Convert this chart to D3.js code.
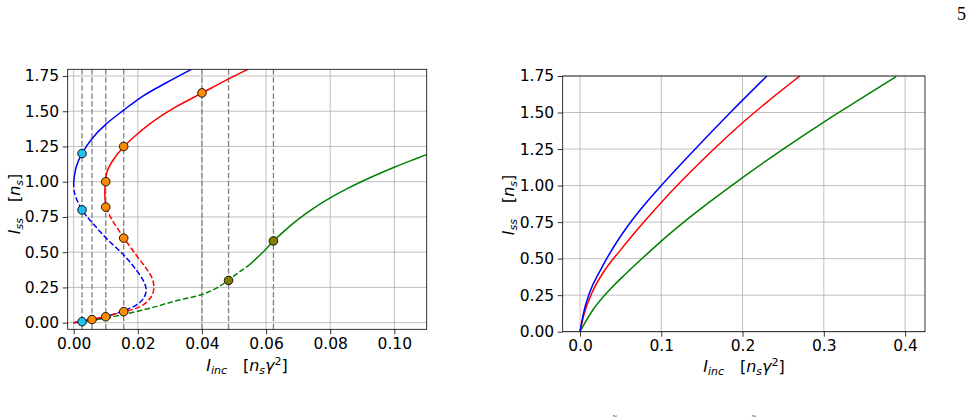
<!DOCTYPE html>
<html>
<head>
<meta charset="utf-8">
<script src="https://cdn.jsdelivr.net/npm/d3@7"></script>
<style>
  body { margin: 0; background: #fff; }
</style>
</head>
<body>
<div id="container"></div>
<script>
// ---- data ----
// left panel: S-shaped response curves, [I_inc, I_ss] pairs along each branch
const blueTop = [[0.0367,1.797],[0.0289,1.702],[0.0216,1.608],[0.0156,1.508],[0.0100,1.407],[0.0060,1.314],[0.0026,1.201],[0.0008,1.106],[0.0,1.0]];
const blueMid = [[0.0,1.0],[0.0003,0.917],[0.0026,0.80],[0.006,0.704],[0.0102,0.598],[0.0156,0.48],[0.0195,0.374],[0.0219,0.29],[0.0226,0.232],[0.0218,0.173],[0.0195,0.125],[0.0156,0.085],[0.01,0.042]];
const blueLow = [[0.01,0.042],[0.0057,0.022],[0.0026,0.009],[0,0]];

const redTop = [[0.0543,1.797],[0.0476,1.721],[0.04,1.629],[0.032,1.532],[0.0247,1.426],[0.0195,1.331],[0.0156,1.248],[0.0123,1.154],[0.0104,1.071],[0.0099,1.0],[0.0097,0.917],[0.01,0.82]];
const redMid = [[0.01,0.82],[0.0117,0.74],[0.0156,0.603],[0.0195,0.48],[0.0226,0.385],[0.0245,0.314],[0.025,0.243],[0.0242,0.184],[0.0216,0.125],[0.0185,0.095],[0.0156,0.078],[0.01,0.043]];
const redLow = [[0.01,0.043],[0.0057,0.024],[0,0]];

const greenLow = [[0,0],[0.0057,0.017],[0.01,0.031]];
const greenMid = [[0.01,0.031],[0.0156,0.059],[0.0237,0.102],[0.032,0.156],[0.04,0.20],[0.0444,0.243],[0.0483,0.303],[0.0517,0.36],[0.0548,0.41]];
const greenTop = [[0.0548,0.41],[0.059,0.50],[0.0623,0.579],[0.066,0.657],[0.07,0.733],[0.075,0.815],[0.08,0.885],[0.085,0.947],[0.09,1.003],[0.095,1.055],[0.10,1.103],[0.105,1.148],[0.1101,1.192]];

const vLines = [0.0026, 0.0057, 0.01, 0.0156, 0.04, 0.0483, 0.0623];
const cyanPts = [[0.0026,1.20],[0.0026,0.80],[0.0026,0.007]];
const orangePts = [[0.0057,0.022],[0.01,0.042],[0.0156,0.078],[0.01,0.82],[0.01,1.0],[0.0156,0.60],[0.0156,1.25],[0.04,1.63]];
const olivePts = [[0.0483,0.30],[0.0623,0.58]];

// right panel: monotonic curves
const blueR = [[0,0],[0.004,0.12],[0.012,0.27],[0.025,0.42],[0.037,0.54],[0.057,0.71],[0.078,0.86],[0.10,1.0],[0.14,1.24],[0.185,1.50],[0.23,1.75]];
const redR = [[0,0],[0.005,0.12],[0.015,0.27],[0.028,0.40],[0.05,0.56],[0.073,0.715],[0.10,0.885],[0.13,1.06],[0.16,1.225],[0.20,1.43],[0.2705,1.75]];
const greenR = [[0,0],[0.005,0.05],[0.016,0.15],[0.037,0.29],[0.057,0.40],[0.086,0.55],[0.10,0.62],[0.13,0.76],[0.16,0.89],[0.20,1.055],[0.25,1.25],[0.30,1.435],[0.35,1.61],[0.389,1.745]];

const xTicksL = [0, 0.02, 0.04, 0.06, 0.08, 0.10];
const xTicksR = [0, 0.1, 0.2, 0.3, 0.4];
const yTicks = [0, 0.25, 0.5, 0.75, 1.0, 1.25, 1.5, 1.75];

// ---- layout ----
const w = 973, h = 420;
const svg = d3.select("#container").append("svg")
  .attr("width", w).attr("height", h)
  .style("font-family", "'DejaVu Sans', sans-serif");
svg.append("rect").attr("width", w).attr("height", h).attr("fill", "#fff");

const dash = "5.55,2.4";

function makePanel(id, box, xDom, yDom, xTicks, xFmt) {
  const x = d3.scaleLinear().domain(xDom).range([box.l, box.r]);
  const y = d3.scaleLinear().domain(yDom).range([box.b, box.t]);
  const g = svg.append("g");
  g.append("clipPath").attr("id", id)
    .append("rect").attr("x", box.l).attr("y", box.t)
    .attr("width", box.r - box.l).attr("height", box.b - box.t);

  // grid
  g.selectAll(".gx").data(xTicks).enter().append("line")
    .attr("x1", d => x(d)).attr("x2", d => x(d))
    .attr("y1", box.t).attr("y2", box.b)
    .attr("stroke", "#b0b0b0").attr("stroke-width", 0.8);
  g.selectAll(".gy").data(yTicks).enter().append("line")
    .attr("x1", box.l).attr("x2", box.r)
    .attr("y1", d => y(d)).attr("y2", d => y(d))
    .attr("stroke", "#b0b0b0").attr("stroke-width", 0.8);

  const xAxis = d3.axisBottom(x).tickValues(xTicks).tickFormat(d3.format(xFmt))
    .tickSize(5).tickSizeOuter(0).tickPadding(3.5);
  const yAxis = d3.axisLeft(y).tickValues(yTicks).tickFormat(d3.format(".2f"))
    .tickSize(5).tickSizeOuter(0).tickPadding(3.5);
  const ax = g.append("g").attr("transform", "translate(0," + box.b + ")").call(xAxis);
  const ay = g.append("g").attr("transform", "translate(" + box.l + ",0)").call(yAxis);
  [ax, ay].forEach(a => {
    a.attr("font-family", null).attr("font-size", null);
    a.select(".domain").remove();
    a.selectAll("line").attr("stroke", "#000").attr("stroke-width", 0.8);
    a.selectAll("text").style("font-size", "15.5px").style("font-family", "'DejaVu Sans'").attr("fill", "#000");
  });

  const plot = g.append("g").attr("clip-path", "url(#" + id + ")");
  return { x, y, g, plot, box };
}

function drawCurve(p, pts, color, dashed, curve) {
  const line = d3.line().x(d => p.x(d[0])).y(d => p.y(d[1]))
    .curve(curve || d3.curveCatmullRom.alpha(0.5));
  p.plot.append("path").datum(pts)
    .attr("d", line).attr("fill", "none")
    .attr("stroke", color).attr("stroke-width", 1.5)
    .attr("stroke-dasharray", dashed ? dash : null);
}

function drawDots(p, pts, color) {
  p.plot.selectAll(null).data(pts).enter().append("circle")
    .attr("cx", d => p.x(d[0])).attr("cy", d => p.y(d[1]))
    .attr("r", 4.3).attr("fill", color)
    .attr("stroke", "#000").attr("stroke-width", 0.9);
}

function frame(p) {
  const b = p.box;
  p.g.append("rect").attr("x", b.l).attr("y", b.t)
    .attr("width", b.r - b.l).attr("height", b.b - b.t)
    .attr("fill", "none").attr("stroke", "#000").attr("stroke-width", 0.8);
}

// math-like label: parts = [text, italic, size, baseline offset, dx]
function mathLabel(x, y, rot, parts) {
  const t = svg.append("text").attr("text-anchor", "middle").attr("fill", "#000")
    .attr("transform", "translate(" + x + "," + y + ") rotate(" + rot + ")");
  let prev = 0;
  parts.forEach(pt => {
    t.append("tspan").text(pt[0])
      .style("font-style", pt[1] ? "italic" : "normal")
      .style("font-size", pt[2] + "px")
      .attr("dy", pt[3] - prev)
      .attr("dx", pt[4] || 0);
    prev = pt[3];
  });
}
const xLabelParts = [["I",1,16,0],["inc",1,11,3.4],["[",0,16,0,16],["n",1,16,0],["s",1,11,3.4],["\u03b3",1,16,0],["2",0,11,-6.5],["]",0,16,0]];
const yLabelParts = [["I",1,16,0],["ss",1,11,3.4],["[",0,16,0,16],["n",1,16,0],["s",1,11,3.4],["]",0,16,0]];

// ---- left panel ----
const L = makePanel("clipL", { l: 67.7, r: 426.7, t: 69.3, b: 329.3 },
  [-0.00187, 0.1101], [-0.047, 1.7975], xTicksL, ".2f");

L.plot.selectAll(".vl").data(vLines).enter().append("line")
  .attr("x1", d => L.x(d)).attr("x2", d => L.x(d))
  .attr("y1", L.box.t).attr("y2", L.box.b)
  .attr("stroke", "#808080").attr("stroke-width", 1.3)
  .attr("stroke-dasharray", dash);

drawCurve(L, greenLow, "green", false);
drawCurve(L, greenMid, "green", true);
drawCurve(L, greenTop, "green", false);
drawCurve(L, blueTop, "blue", false);
drawCurve(L, blueMid, "blue", true);
drawCurve(L, blueLow, "blue", false);
drawCurve(L, redTop, "red", false);
drawCurve(L, redMid, "red", true);
drawCurve(L, redLow, "red", false);
drawDots(L, cyanPts, "#1fbfee");
drawDots(L, orangePts, "darkorange");
drawDots(L, olivePts, "olive");
frame(L);

mathLabel(247, 371, 0, xLabelParts);
mathLabel(20, 204, -90, yLabelParts);

// ---- right panel ----
const R = makePanel("clipR", { l: 562.7, r: 925, t: 76, b: 331.7 },
  [-0.0213, 0.4245], [0, 1.75], xTicksR, ".1f");
drawCurve(R, greenR, "green", false, d3.curveMonotoneX);
drawCurve(R, redR, "red", false, d3.curveMonotoneX);
drawCurve(R, blueR, "blue", false, d3.curveMonotoneX);
frame(R);

mathLabel(744, 372, 0, xLabelParts);
mathLabel(514, 205, -90, yLabelParts);

// page number and clipped caption fragments
svg.append("text").attr("x", 966).attr("y", 20).attr("text-anchor", "end")
  .style("font-family", "'Liberation Serif', serif").style("font-size", "18px").text("5");
svg.selectAll(".tl").data([615, 754]).enter().append("text")
  .attr("x", d => d).attr("y", 418.5).attr("text-anchor", "middle")
  .style("font-family", "'Liberation Serif', serif").style("font-size", "8px").text("~");
</script>
</body>
</html>
